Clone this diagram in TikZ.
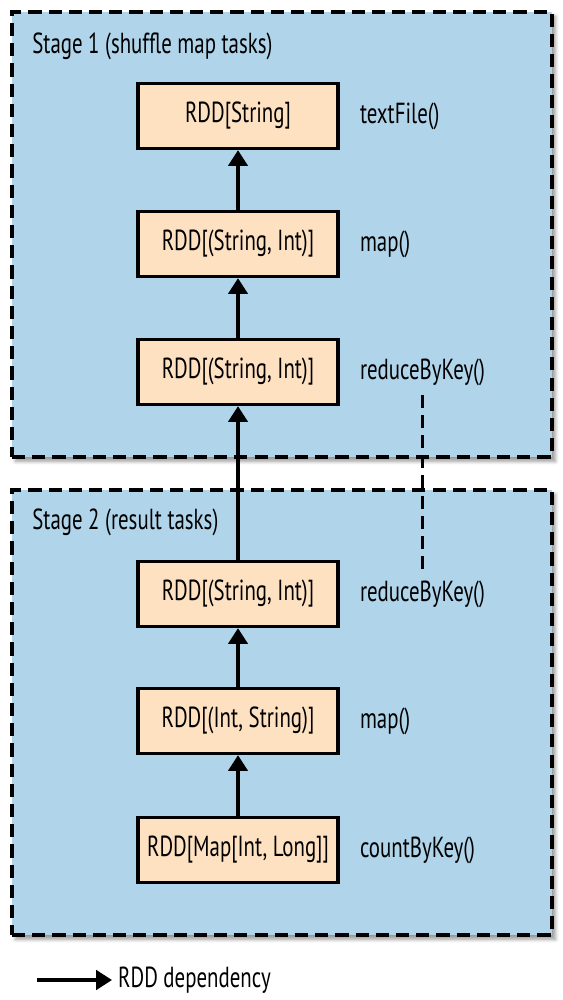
\documentclass[tikz,border=0pt]{standalone}
\usepackage{fontspec}
\setmainfont{PT Sans}[FakeStretch=0.72]
\usepackage{tikz}
\usetikzlibrary{arrows.meta, positioning, shadows.blur}
\definecolor{stageBlue}{RGB}{176,212,234}
\definecolor{rddPeach}{RGB}{253,225,193}

\begin{document}
\begin{tikzpicture}[x=0.02cm, y=-0.02cm, font=\fontsize{16.5}{18}\selectfont,
    stagebox/.style={draw=black, fill=stageBlue, line width=1.9pt,
      dash pattern=on 7.5pt off 4pt, minimum width=10.8cm, minimum height=8.9cm,
      blur shadow={shadow xshift=2pt, shadow yshift=-2.5pt, shadow blur steps=6}},
    rdd/.style={draw=black, fill=rddPeach, line width=1.9pt,
      minimum width=4cm, minimum height=1.3cm, inner sep=2pt},
    op/.style={right=0.4cm of #1, anchor=west, inner sep=0pt},
    dep/.style={line width=1.9pt, -{Triangle[width=11pt, length=9pt]}},
    shuffle/.style={line width=1.9pt, dash pattern=on 7.5pt off 4pt}]
  \useasboundingbox (0,0) rectangle (563,1000);

  % the two stages
  \node[stagebox] (stage1) at (282,234.5) {};
  \node[stagebox] (stage2) at (282,712.5) {};
  \node[anchor=west, inner sep=0pt] (title1) at (32,46) {Stage 1 (shuffle map tasks)};
  \node[anchor=west, inner sep=0pt] (title2) at (32,522) {Stage 2 (result tasks)};

  % RDDs of stage 1
  \node[rdd] (r1) at (238,116) {RDD[String]};
  \node[rdd] (r2) at (238,244) {RDD[(String, Int)]};
  \node[rdd] (r3) at (238,372) {RDD[(String, Int)]};
  \node[op=r1] (l1) {textFile()};
  \node[op=r2] (l2) {map()};
  \node[op=r3] (l3) {reduceByKey()};

  % RDDs of stage 2
  \node[rdd] (r4) at (238,594) {RDD[(String, Int)]};
  \node[rdd] (r5) at (238,721) {RDD[(Int, String)]};
  \node[rdd] (r6) at (238,850) {RDD[Map[Int, Long]]};
  \node[op=r4] (l4) {reduceByKey()};
  \node[op=r5] (l5) {map()};
  \node[op=r6] (l6) {countByKey()};

  % dependencies
  \draw[dep] (r2.north) -- (r1.south);
  \draw[dep] (r3.north) -- (r2.south);
  \draw[dep] (r4.north) -- (r3.south);
  \draw[dep] (r5.north) -- (r4.south);
  \draw[dep] (r6.north) -- (r5.south);
  \draw[shuffle] ([yshift=-5pt]l3.south) -- ([yshift=6pt]l4.north);

  % legend
  \coordinate (legend) at (37,980);
  \node[anchor=west] (legtxt) at (112,980) {RDD dependency};
  \draw[dep] (legend) -- (legtxt.west);
\end{tikzpicture}
\end{document}
